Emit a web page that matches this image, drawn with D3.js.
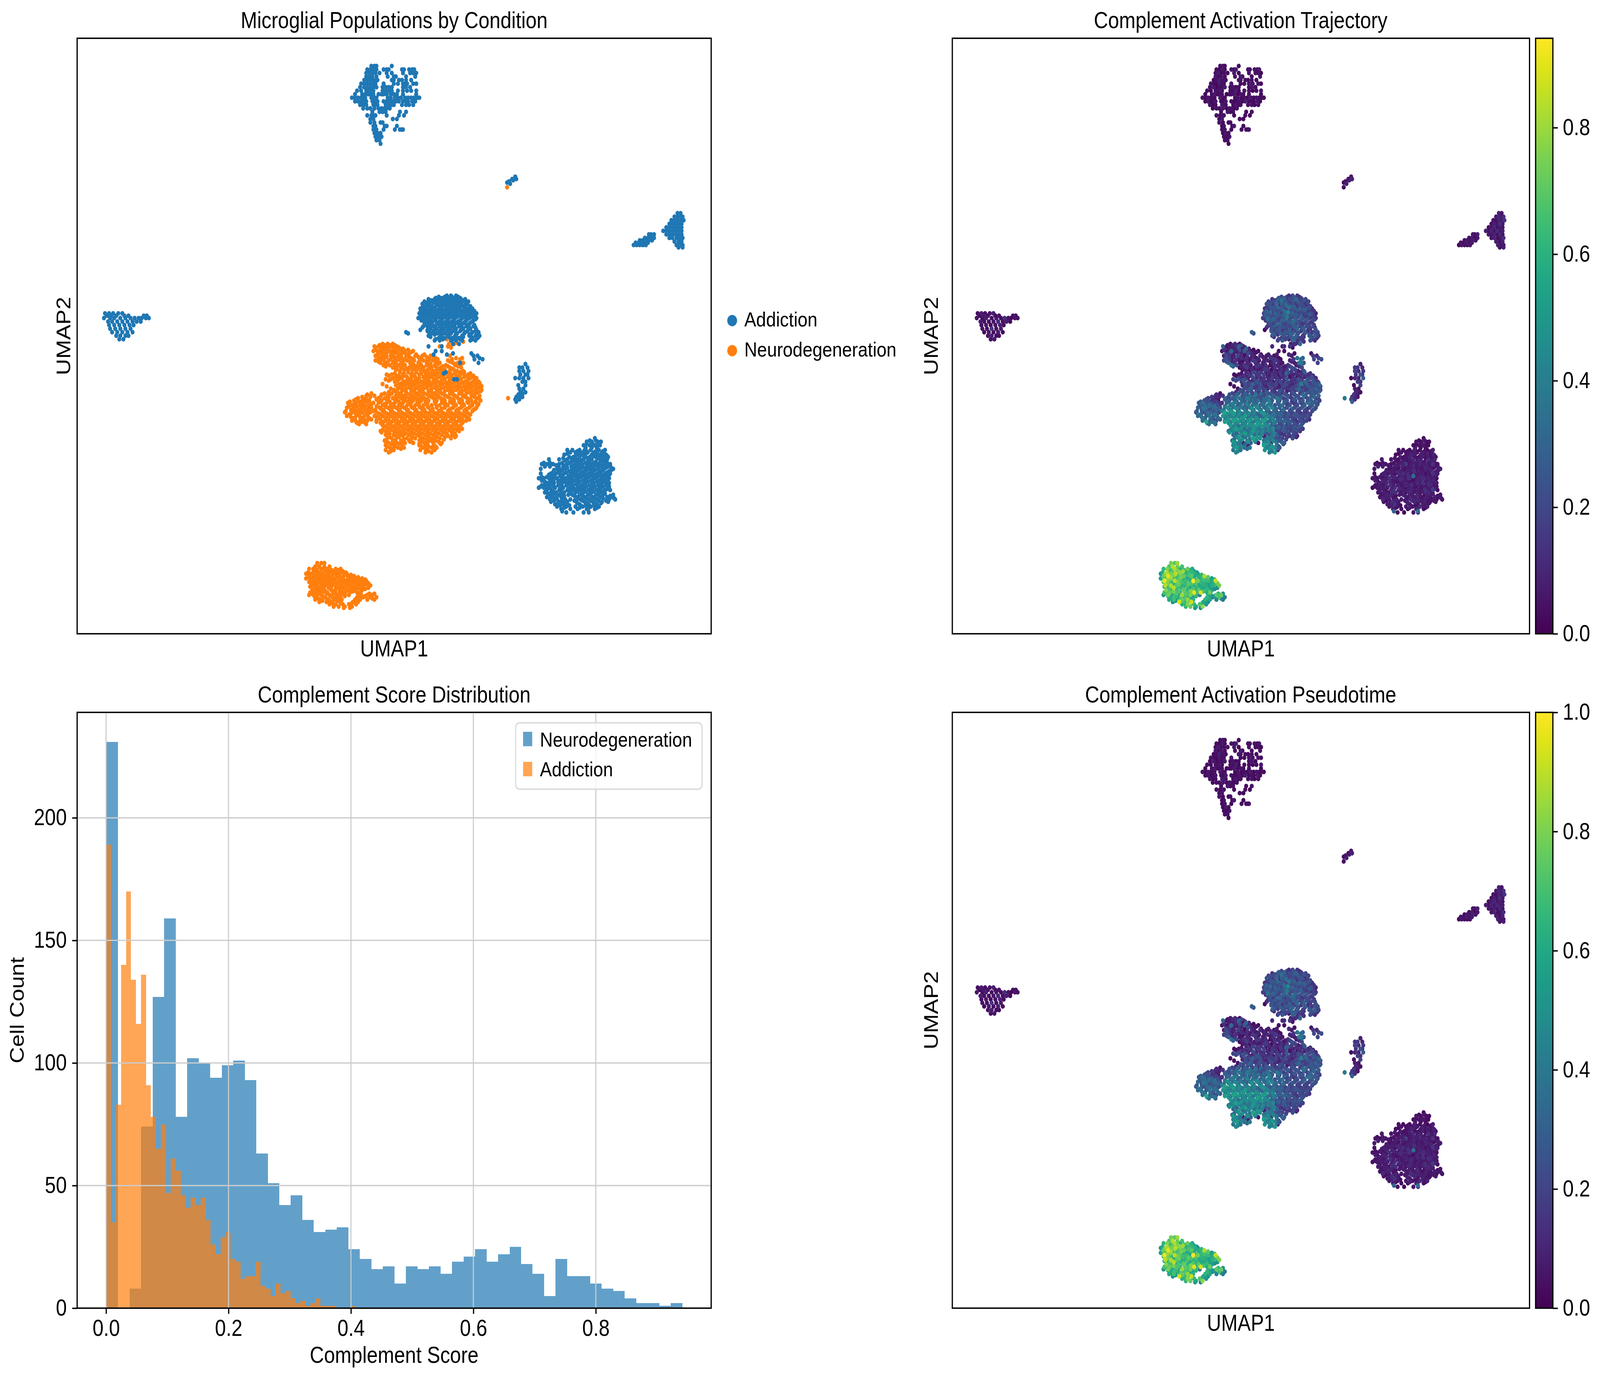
<!DOCTYPE html>
<html>
<head>
<meta charset="utf-8">
<script src="https://cdn.jsdelivr.net/npm/d3@7"></script>
<style>
  html, body { margin: 0; background: #fff; overflow: hidden; }
  /* window reports 4096x3534 here rather than 4729x3534, so fit the figure to whatever it is */
  svg { display: block; width: 100vw; height: 100vh; }
  text { font-family: "Liberation Sans", Arial, sans-serif; fill: #000; }
</style>
</head>
<body>
<svg id="fig" viewBox="0 0 4729 3534" preserveAspectRatio="none"></svg>
<script>
// Each row is [umap2, umap1, score%, umap1, score%, ...]
const clusterTop = [
  [482, 289,3, 292,5, 294,2, 309,4],
  [479, 285,4, 288,2, 291,6, 294,3, 301,5, 304,2, 306,7, 319,4, 321,3, 326,5, 329,2, 331,6],
  [476, 284,3, 287,7, 290,2, 293,4, 297,3, 304,6, 309,2, 320,5, 327,3, 330,4, 333,2],
  [473, 284,6, 287,2, 290,5, 294,3, 305,4, 311,7, 313,2, 323,3, 332,5],
  [470, 282,2, 285,4, 288,8, 291,3, 293,5, 295,2, 309,6, 311,3, 316,4, 319,2, 323,5, 328,3],
  [467, 279,5, 282,3, 285,2, 288,6, 291,3, 293,4, 301,6, 311,2, 315,4, 320,3, 322,7, 324,2, 330,5, 333,3],
  [464, 278,3, 282,6, 285,2, 288,4, 291,3, 294,7, 300,3, 303,5, 306,2, 309,4, 320,3, 323,6, 327,2],
  [461, 275,4, 279,2, 284,5, 287,3, 289,6, 291,2, 300,4, 303,3, 306,7, 309,2, 315,5, 320,3, 324,2, 328,4, 333,6],
  [458, 273,2, 280,4, 283,6, 286,2, 288,3, 291,5, 296,2, 299,4, 301,3, 304,6, 308,2, 311,5, 314,3, 320,4, 333,2],
  [455, 270,5, 273,3, 276,6, 279,2, 281,4, 283,3, 289,7, 292,2, 294,4, 305,3, 308,5, 312,2, 315,4, 318,3, 322,6, 325,2, 328,5, 331,3, 334,4, 336,2],
  [452, 273,3, 276,6, 279,2, 282,4, 284,5, 290,3, 293,2, 295,6, 301,4, 304,2, 307,3, 310,5, 313,2, 316,7, 320,3, 323,4, 325,2, 329,6, 332,3],
  [449, 278,5, 281,2, 284,3, 291,6, 293,2, 295,4, 303,3, 306,6, 309,2, 311,4, 319,3, 323,5, 326,2, 330,4],
  [446, 281,2, 285,4, 288,3, 292,6, 296,2, 299,5, 302,3, 304,2, 307,4],
  [443, 290,3, 297,6, 300,2, 303,4, 317,3, 323,5],
  [440, 285,4, 289,2, 291,5, 293,3, 304,2, 316,4, 321,2],
  [437, 288,3, 291,6, 310,4, 314,2],
  [434, 288,5, 292,3, 298,2, 300,4],
  [431, 291,2, 293,4, 302,3, 304,6, 314,2],
  [428, 291,3, 294,5, 301,2, 312,4, 317,3, 319,2, 320,5],
  [425, 292,2, 295,6, 298,3],
  [422, 293,4, 296,2, 299,5],
  [419, 294,3, 297,4],
  [416, 298,2]
];

const clusterTiny = [
  [388, 430,6], [386, 427,3, 431,9], [385, 428,7], [384, 424,5], [383, 422,2], [382, 425,8]
];

const clusterRight = [
  [357, 589,8, 592,5],
  [354, 586,6, 589,10, 592,4, 594,12],
  [351, 583,5, 586,3, 589,9, 592,7, 595,14],
  [348, 581,4, 584,8, 587,5, 590,12, 593,6],
  [345, 578,3, 581,6, 584,10, 587,4, 590,7, 593,5],
  [342, 575,7, 578,4, 581,9, 584,3, 587,11, 590,6, 593,8],
  [339, 561,5, 563,3, 566,8, 578,6, 581,5, 584,8, 587,3, 590,10, 593,4],
  [336, 557,4, 560,7, 563,2, 566,6, 581,5, 584,9, 588,3, 591,6, 594,12],
  [334, 552,3, 555,6, 558,4, 561,8, 564,5],
  [333, 586,7, 590,4, 593,9],
  [332, 548,5, 551,3, 554,7, 557,4, 560,6],
  [330, 546,2, 549,6, 552,4, 555,3, 558,5, 588,8, 591,5, 594,6],
  [328, 590,4, 594,7]
];

const clusterLeft = [
  [272, 28,4, 32,7, 36,3, 41,5, 45,8],
  [270, 30,3, 34,6, 39,4, 47,2, 51,5, 66,3, 69,4],
  [268, 27,5, 33,2, 37,7, 43,4, 48,6, 53,3, 57,12, 61,5, 64,2, 68,6, 71,3],
  [265, 31,8, 35,4, 40,3, 45,6, 50,10, 55,4, 59,7, 63,3],
  [262, 32,3, 37,6, 42,2, 47,5, 52,8, 56,3],
  [259, 33,5, 38,3, 43,15, 48,4, 53,6],
  [256, 35,2, 40,6, 45,4, 50,7, 55,3],
  [253, 39,5, 43,8, 48,3, 51,4],
  [250, 42,4, 46,6]
];

const clusterUpper = [
  [287, 363,12, 367,18, 372,14],
  [285, 352,24, 358,28, 365,14, 370,20, 376,18],
  [283, 348,16, 355,34, 361,9, 368,24, 374,12, 379,24],
  [281, 343,22, 350,30, 357,26, 364,18, 371,14, 377,16, 383,20],
  [279, 346,14, 353,12, 360,32, 367,24, 374,20, 381,8],
  [277, 339,16, 344,26, 351,30, 356,20, 363,36, 369,28, 376,14, 385,22],
  [275, 341,12, 347,24, 354,24, 359,16, 366,22, 372,26, 380,28, 387,10],
  [273, 337,24, 343,32, 349,18, 356,14, 362,44, 368,18, 375,20, 383,14, 389,12],
  [271, 340,22, 346,16, 352,26, 358,30, 365,24, 371,26, 378,14, 385,26, 391,6],
  [269, 337,12, 343,18, 349,26, 355,20, 361,38, 367,14, 373,22, 380,16, 387,12],
  [267, 340,34, 346,30, 352,14, 358,28, 364,18, 370,28, 377,26, 383,24, 391,18],
  [265, 343,26, 349,22, 356,14, 362,26, 368,32, 374,20, 381,14, 388,8],
  [263, 346,16, 353,30, 359,18, 365,20, 371,16, 378,12, 385,18],
  [261, 340,14, 344,20, 350,12, 356,24, 362,22, 368,28, 375,20, 382,22, 389,20],
  [259, 347,18, 353,26, 360,16, 366,12, 372,30, 379,28, 386,16],
  [257, 344,26, 350,16, 356,14, 363,24, 369,18, 376,14, 383,12, 391,24],
  [255, 348,22, 354,28, 361,22, 367,28, 373,20, 380,20, 387,16, 394,14],
  [253, 345,20, 357,24, 364,14, 371,26, 378,16, 385,26, 391,28, 395,18],
  [251, 355,14, 361,20, 368,28, 375,18, 388,20, 393,14],
  [249, 351,18, 356,26, 367,30, 372,14, 378,8, 386,22, 391,12]
];

const clusterUpperFill = [
  [286, 355,20, 361,16, 368,24, 374,12],
  [284, 345,14, 351,26, 358,18, 364,22, 371,30, 377,14, 381,18],
  [282, 341,18, 347,22, 353,14, 360,24, 366,16, 373,26, 380,12, 384,16],
  [280, 339,24, 345,12, 355,28, 362,20, 369,18, 376,24, 383,14],
  [278, 342,20, 348,24, 358,16, 365,26, 372,12, 379,20, 386,18],
  [276, 337,14, 344,18, 350,20, 356,26, 362,14, 369,22, 375,30, 382,24, 388,12],
  [274, 339,28, 345,14, 352,22, 358,32, 364,18, 370,14, 378,22, 385,16, 390,14],
  [272, 336,16, 341,20, 348,28, 354,16, 360,24, 367,30, 373,16, 381,20, 387,24, 392,10],
  [270, 338,26, 344,22, 350,14, 356,24, 363,18, 369,24, 376,28, 383,12, 389,18],
  [268, 335,18, 341,28, 347,16, 353,20, 359,26, 365,22, 371,14, 378,20, 385,16, 392,12],
  [266, 338,14, 345,24, 351,18, 357,30, 363,14, 370,22, 376,16, 382,26, 389,20],
  [264, 341,20, 348,16, 354,26, 360,18, 366,28, 373,24, 380,18, 386,14],
  [262, 343,22, 349,28, 356,12, 363,20, 369,26, 376,14, 383,20, 390,12],
  [260, 339,10, 346,24, 352,14, 358,22, 365,16, 371,26, 378,22, 385,18, 391,16],
  [258, 344,18, 351,24, 357,14, 364,28, 370,20, 377,18, 384,12, 392,22],
  [256, 346,14, 352,18, 359,26, 366,14, 372,24, 381,26, 388,14, 394,20],
  [254, 346,28, 351,16, 358,20, 365,30, 372,12, 385,22, 392,16],
  [252, 347,12, 358,18, 365,24, 372,20, 379,14, 387,24, 394,12],
  [250, 352,20, 359,16, 369,26, 376,14, 388,16]
];

const clusterBlueStrays = [
  [258, 337,2], [256, 323,28], [255, 325,24],
  [246, 369,10, 375,30], [244, 345,10, 358,12], [240, 352,4, 358,3], [238, 369,4], [237, 350,8, 363,10],
  [238, 387,5], [236, 389,16, 393,10], [234, 395,18], [233, 390,20, 398,22], [230, 394,18],
  [230, 376,38], [222, 362,24], [221, 360,28], [216, 370,12, 373,22]
];

const clusterMidRight = [
  [229, 440,8], [226, 434,14, 437,16, 442,10], [223, 434,18, 438,12, 443,15], [220, 435,14, 440,24, 442,12],
  [217, 430,3, 434,12, 438,10, 443,28], [214, 437,16, 440,14], [211, 433,3, 440,18],
  [208, 434,8, 438,6], [205, 435,6, 436,10, 440,5], [203, 433,14, 437,6],
  [201, 431,14, 435,8, 437,6], [199, 430,18, 434,12], [197, 431,28]
];

const clusterDeep = [
  [166, 508,3],
  [163, 500,5, 505,3, 511,2, 514,4],
  [160, 497,2, 503,5, 508,6, 513,2],
  [156, 481,5, 486,3, 493,2, 498,8, 504,3, 512,2, 518,8],
  [154, 484,6, 489,4, 496,4, 501,4, 507,7, 515,5],
  [152, 478,3, 491,5, 495,9, 505,6, 512,8, 519,9],
  [150, 483,7, 487,4, 499,3, 503,4, 509,3, 516,3, 521,2],
  [148, 463,7, 473,5, 481,4, 490,3, 497,11, 505,7, 513,12, 520,10],
  [146, 485,8, 493,6, 501,4, 509,5, 517,6],
  [144, 456,5, 461,3, 467,5, 473,4, 481,5, 489,16, 496,8, 504,10, 511,9, 518,14, 523,4],
  [142, 459,8, 464,8, 477,7, 485,9, 492,4, 500,6, 507,4, 514,6, 521,6],
  [140, 455,6, 471,3, 479,5, 488,4, 494,6, 503,7, 511,9, 517,4, 526,8],
  [138, 474,7, 483,9, 490,8, 498,12, 506,5, 514,6, 522,7],
  [136, 455,4, 465,8, 470,5, 478,4, 486,12, 494,5, 502,7, 510,4, 518,14, 523,6],
  [134, 468,9, 474,9, 482,7, 489,6, 497,34, 505,9, 513,8, 520,5],
  [132, 453,6, 458,4, 463,5, 471,12, 479,8, 485,10, 492,13, 500,8, 508,12, 516,5, 522,4],
  [130, 456,7, 465,9, 474,6, 481,5, 488,7, 496,4, 504,6, 512,7, 519,9],
  [128, 461,8, 468,10, 476,6, 484,5, 491,4, 499,6, 507,13, 515,10, 522,7],
  [126, 456,3, 464,5, 472,13, 480,9, 487,7, 495,11, 503,8, 511,5, 519,6],
  [124, 453,2, 458,6, 463,8, 469,5, 477,12, 484,4, 491,6, 498,5, 506,4, 514,8, 521,6],
  [122, 461,4, 473,9, 481,6, 486,8, 494,10, 502,7, 510,12, 518,16, 523,3],
  [120, 459,6, 465,8, 470,5, 478,13, 489,4, 497,5, 505,6, 513,11],
  [118, 463,4, 473,9, 482,6, 486,7, 493,8, 501,10, 509,4, 516,7, 526,5],
  [116, 461,5, 467,8, 475,4, 490,5, 498,7, 506,4, 514,5, 520,7, 525,6],
  [114, 464,11, 471,4, 479,9, 484,6, 494,12, 502,9, 510,8, 522,4, 528,3],
  [112, 465,4, 474,12, 481,6, 490,8, 498,10, 506,7, 515,3, 521,6],
  [110, 469,7, 477,13, 493,5, 502,4, 510,5],
  [108, 471,5, 480,6, 489,7, 496,5, 504,12, 512,8],
  [106, 475,8, 484,3, 491,4, 500,9, 508,4],
  [104, 476,30],
  [103, 480,4, 487,2, 497,6, 502,9]
];

const clusterDeepFill = [
  [164, 503,4, 509,6],
  [161, 500,3, 506,5, 511,4],
  [158, 499,6, 505,4, 510,3],
  [155, 491,5, 500,3, 509,6, 516,4],
  [153, 481,3, 493,6, 499,7, 510,4, 517,6],
  [151, 489,5, 497,4, 507,8, 514,5, 520,3],
  [149, 477,6, 485,3, 493,8, 501,5, 511,4, 518,6],
  [147, 479,4, 488,6, 495,3, 503,9, 515,7],
  [145, 458,4, 464,6, 476,5, 483,7, 491,4, 499,8, 507,6, 513,4, 520,5],
  [143, 470,6, 479,8, 487,3, 494,7, 502,5, 509,9, 516,6, 523,3],
  [141, 473,5, 481,4, 490,6, 497,9, 505,5, 512,7, 519,4, 524,8],
  [139, 468,7, 476,6, 485,5, 492,8, 500,4, 508,6, 516,9, 524,4],
  [137, 467,4, 472,8, 480,10, 488,5, 496,7, 504,8, 512,5, 520,6],
  [135, 463,6, 475,4, 484,9, 491,12, 499,5, 507,7, 515,4, 522,8],
  [133, 456,5, 461,7, 466,4, 476,9, 486,6, 494,10, 502,8, 510,6, 518,7],
  [131, 468,6, 477,5, 483,12, 490,7, 498,4, 506,9, 514,8, 521,4],
  [129, 459,4, 464,7, 472,9, 479,4, 486,8, 493,5, 501,10, 510,6, 517,7],
  [127, 459,6, 466,4, 474,8, 482,6, 490,9, 497,7, 505,4, 513,12, 520,5],
  [125, 455,5, 461,7, 468,9, 476,4, 485,6, 493,8, 500,5, 508,7, 516,9, 522,4],
  [123, 465,6, 474,5, 482,10, 488,4, 496,7, 504,6, 512,4, 520,8],
  [121, 460,7, 467,4, 475,12, 484,5, 491,9, 499,6, 507,8, 515,5],
  [119, 462,5, 468,8, 476,6, 483,4, 495,7, 503,4, 511,9, 518,6],
  [117, 465,6, 471,9, 478,4, 488,8, 496,5, 504,6, 512,7, 523,4],
  [115, 470,7, 476,5, 492,6, 500,8, 508,5, 516,4, 527,6],
  [113, 468,4, 477,8, 488,5, 496,9, 504,7, 512,4, 519,6],
  [111, 472,6, 480,5, 491,7, 500,6, 508,8, 514,5],
  [109, 474,9, 483,4, 494,6, 499,4, 507,7],
  [107, 478,5, 493,8, 502,6, 510,4]
];

const clusterMain = [
  [246, 300,5, 305,12, 310,3],
  [244, 292,30, 296,4, 304,3, 309,28, 314,6],
  [242, 299,8, 303,8, 312,6, 317,30, 320,10],
  [240, 291,4, 295,5, 301,32, 307,6, 315,25, 322,4, 330,3],
  [238, 298,10, 304,9, 311,9, 319,20, 326,6],
  [236, 293,8, 299,14, 308,18, 315,3, 323,10, 332,12, 339,6, 347,5, 366,8],
  [234, 296,22, 302,5, 312,12, 319,8, 328,3, 336,9, 344,14, 352,3, 372,35, 378,30],
  [232, 293,18, 306,12, 314,3, 324,15, 331,4, 340,11, 349,16, 364,10],
  [230, 298,28, 303,7, 310,5, 318,9, 327,12, 335,8, 345,9, 356,6, 369,7, 374,40, 379,24],
  [228, 301,34, 307,20, 315,14, 322,5, 331,15, 338,12, 343,3, 351,8, 362,12, 371,8],
  [226, 310,2, 318,16, 326,3, 335,10, 340,6, 348,14, 357,3, 366,22, 377,20],
  [224, 313,2, 321,3, 329,8, 337,16, 344,2, 353,9, 361,15, 370,17],
  [222, 317,10, 325,18, 333,14, 342,7, 349,11, 357,6, 365,13, 376,9, 380,26],
  [220, 304,3, 309,6, 320,15, 328,12, 336,18, 345,14, 352,3, 360,17, 368,10, 376,14, 384,5],
  [218, 313,10, 317,2, 324,20, 332,7, 340,10, 348,5, 356,12, 364,4, 372,3, 380,8, 388,22],
  [216, 303,18, 308,22, 316,20, 326,18, 334,9, 343,12, 351,15, 361,26, 369,9, 377,14, 384,22, 391,8],
  [214, 312,15, 321,12, 329,24, 338,13, 346,6, 354,20, 357,4, 365,13, 373,18, 381,30, 389,25, 394,14],
  [212, 300,3, 316,22, 324,28, 332,24, 341,18, 349,20, 359,22, 367,8, 376,38, 385,14, 392,24],
  [210, 304,4, 319,14, 328,16, 336,10, 344,14, 353,6, 363,12, 371,20, 380,18, 388,20, 397,22],
  [208, 308,5, 315,22, 323,26, 332,24, 340,6, 348,12, 357,16, 366,20, 374,30, 383,18, 392,30],
  [206, 312,18, 319,14, 328,22, 336,14, 345,18, 353,24, 361,8, 369,14, 378,22, 387,26, 396,26],
  [204, 289,5, 302,20, 309,26, 316,28, 324,12, 333,30, 341,22, 350,18, 358,24, 366,16, 375,18, 382,28, 391,22],
  [202, 284,12, 292,14, 305,18, 313,22, 321,34, 329,24, 337,16, 346,28, 354,14, 362,26, 371,22, 379,34, 387,24, 395,28],
  [200, 276,18, 284,8, 296,24, 302,28, 310,34, 318,38, 326,30, 333,18, 341,36, 350,38, 357,14, 366,18, 374,20, 383,22, 392,20],
  [198, 272,24, 280,12, 287,6, 299,20, 306,26, 314,22, 322,26, 330,36, 338,30, 345,24, 353,20, 361,24, 370,16, 378,26, 387,30, 396,18],
  [196, 266,26, 274,20, 282,16, 291,12, 296,28, 304,38, 312,32, 320,24, 328,22, 336,26, 344,28, 352,30, 359,18, 368,12, 376,16, 384,34, 392,18],
  [194, 270,30, 278,32, 286,22, 300,34, 308,26, 316,28, 324,36, 332,32, 340,40, 348,24, 356,34, 364,24, 372,20, 380,28, 388,22, 393,26],
  [192, 265,30, 273,34, 281,28, 289,20, 297,46, 305,42, 313,30, 321,38, 329,44, 337,28, 345,42, 353,22, 361,24, 369,22, 377,26, 385,18, 392,14],
  [190, 269,24, 277,22, 285,30, 293,30, 301,36, 309,28, 317,24, 325,30, 333,34, 341,32, 349,26, 357,32, 365,14, 373,16, 381,20, 389,24],
  [188, 263,26, 272,22, 280,26, 288,20, 294,54, 302,50, 310,46, 318,34, 326,42, 334,46, 342,26, 350,24, 358,20, 366,12, 374,16, 382,12],
  [186, 267,34, 276,30, 284,36, 298,42, 306,32, 314,36, 322,28, 330,30, 338,38, 346,36, 354,30, 362,26, 370,24, 378,20, 386,18],
  [184, 269,34, 278,36, 286,30, 294,38, 302,44, 310,36, 318,34, 326,36, 334,32, 342,34, 350,22, 358,18, 366,20, 374,22, 382,24],
  [182, 273,26, 282,22, 289,24, 298,50, 306,54, 314,48, 322,50, 330,44, 338,52, 346,42, 354,28, 362,24, 370,14, 378,16, 385,12],
  [180, 274,56, 280,32, 294,52, 301,38, 309,50, 317,32, 325,36, 333,40, 341,34, 349,36, 357,30, 365,26, 373,14, 379,20],
  [178, 277,36, 284,28, 305,44, 313,40, 321,46, 329,52, 337,44, 345,28, 353,20, 361,18, 369,22, 377,24],
  [176, 302,42, 310,36, 318,46, 326,48, 334,50, 342,36, 350,24, 358,28, 366,16, 374,26],
  [174, 306,54, 314,30, 322,40, 330,38, 338,30, 346,44, 354,18, 362,20, 370,22, 378,18],
  [172, 298,36, 303,44, 311,40, 319,34, 327,38, 335,44, 343,34, 351,20, 359,24, 367,22, 375,14],
  [170, 307,28, 316,52, 323,46, 331,30, 339,26, 347,40, 355,12, 363,18, 371,16],
  [168, 305,36, 313,26, 320,42, 328,38, 336,6, 344,30, 352,16, 364,14, 372,8],
  [166, 309,50, 324,54, 332,46, 340,40, 348,24, 356,20, 367,22],
  [164, 302,32, 310,38, 318,40, 326,50, 336,36, 346,42, 352,24],
  [162, 306,44, 314,4, 322,30, 330,6, 341,46, 344,4, 356,30, 358,26],
  [160, 303,40, 311,36, 319,6, 336,52, 344,36, 350,18],
  [158, 307,52, 315,34, 321,38, 340,40, 348,44, 353,24],
  [156, 303,36, 311,34, 337,48, 344,40, 351,10],
  [154, 306,44, 342,40, 348,52]
];

const clusterMainFill = [
  [245, 297,6, 302,10, 307,4, 312,20],
  [243, 293,8, 300,3, 306,12, 311,5, 316,9],
  [241, 293,12, 298,4, 305,10, 310,22, 318,6, 325,3],
  [239, 300,18, 308,4, 313,7, 321,12, 328,5],
  [237, 295,20, 302,6, 309,14, 317,3, 324,8, 333,4, 341,7],
  [235, 304,10, 311,5, 318,12, 326,7, 335,3, 343,9, 350,6],
  [233, 299,16, 308,7, 316,10, 322,4, 330,9, 338,5, 346,12, 354,4, 368,14, 376,32],
  [231, 296,24, 302,9, 311,3, 320,7, 327,14, 336,8, 343,3, 352,10, 366,9],
  [229, 305,14, 313,6, 320,11, 329,4, 337,7, 347,12, 354,5, 372,10, 377,28],
  [227, 303,28, 312,9, 319,5, 328,14, 334,6, 346,4, 352,11, 359,7, 364,16, 374,12],
  [225, 314,8, 323,11, 331,6, 339,15, 347,7, 355,13, 360,4, 368,19],
  [223, 317,4, 325,9, 333,5, 341,12, 350,5, 358,9, 366,16, 373,7, 379,20],
  [221, 312,6, 321,8, 329,15, 338,6, 346,10, 354,16, 362,5, 371,12, 379,11, 386,14],
  [219, 306,4, 315,13, 322,6, 331,16, 342,4, 349,13, 358,8, 366,6, 374,9, 382,15, 389,7],
  [217, 310,16, 319,11, 328,9, 336,14, 345,18, 353,7, 360,20, 368,14, 376,6, 386,18, 392,12],
  [215, 306,20, 314,24, 324,8, 332,16, 341,10, 350,17, 358,12, 366,10, 375,22, 383,16, 390,20],
  [213, 319,18, 327,20, 335,12, 344,16, 352,9, 362,16, 370,14, 379,24, 387,18, 395,22],
  [211, 313,10, 322,24, 330,14, 339,8, 347,16, 356,18, 365,10, 374,24, 383,26, 391,16, 396,30],
  [209, 317,20, 326,12, 334,18, 343,22, 351,10, 360,14, 368,18, 377,16, 386,24, 394,18],
  [207, 311,24, 320,28, 329,14, 338,20, 347,8, 355,20, 364,12, 372,26, 381,14, 390,22, 397,18],
  [205, 306,12, 314,16, 323,20, 331,12, 339,26, 348,14, 356,10, 367,24, 376,14, 385,20, 393,24],
  [203, 285,10, 299,24, 307,30, 318,24, 327,36, 335,20, 344,24, 352,20, 360,18, 369,24, 378,30, 389,26],
  [201, 280,16, 288,10, 298,18, 306,32, 315,26, 323,28, 331,22, 339,30, 348,20, 355,26, 364,14, 373,24, 381,18, 390,30],
  [199, 274,22, 282,14, 294,28, 304,24, 312,28, 320,34, 328,24, 336,32, 344,26, 352,34, 360,20, 369,26, 377,16, 386,26, 395,20],
  [197, 268,28, 277,24, 285,18, 298,30, 307,36, 316,28, 325,32, 334,24, 342,40, 351,22, 358,28, 366,18, 375,24, 383,20, 391,26],
  [195, 272,32, 280,26, 289,14, 302,40, 310,24, 318,42, 327,28, 335,34, 343,30, 352,24, 362,16, 371,22, 379,18, 388,28, 394,20],
  [193, 267,24, 275,28, 283,34, 294,36, 303,30, 311,38, 319,26, 328,40, 336,30, 344,36, 353,28, 361,18, 370,14, 378,22, 386,24],
  [191, 271,36, 279,20, 287,28, 298,40, 307,44, 315,34, 323,46, 331,26, 340,38, 349,30, 358,22, 367,26, 375,20, 383,14, 391,22],
  [189, 264,28, 274,30, 283,24, 291,42, 300,48, 308,32, 316,40, 324,34, 332,42, 339,28, 347,32, 355,26, 364,20, 372,18, 380,14, 388,18],
  [187, 269,26, 278,34, 286,22, 296,46, 304,52, 312,38, 320,44, 328,30, 336,48, 344,24, 352,28, 360,18, 368,22, 376,12, 384,20],
  [185, 265,32, 274,24, 282,28, 292,50, 300,38, 308,44, 316,52, 324,38, 332,28, 340,42, 348,30, 356,24, 364,16, 372,24, 380,18],
  [183, 271,36, 280,26, 287,32, 296,44, 304,36, 312,50, 320,36, 328,48, 336,34, 344,38, 352,26, 360,22, 368,18, 376,20, 384,14],
  [181, 270,30, 278,28, 285,24, 294,40, 303,54, 311,34, 319,48, 327,42, 335,52, 343,30, 351,24, 359,28, 367,16, 375,22, 382,18],
  [179, 275,34, 283,36, 298,46, 307,38, 315,44, 323,36, 331,50, 339,32, 347,38, 355,22, 363,26, 371,14, 378,16],
  [177, 300,50, 308,34, 316,42, 324,46, 332,36, 340,44, 348,24, 356,18, 364,22, 372,20],
  [175, 304,40, 312,48, 320,34, 328,42, 336,38, 344,28, 352,30, 360,16, 368,24, 376,18],
  [173, 300,38, 308,46, 316,36, 325,50, 333,32, 341,40, 349,20, 357,26, 365,14, 373,20],
  [171, 299,46, 306,30, 314,42, 321,36, 329,44, 337,28, 345,36, 353,16, 361,22, 369,18],
  [169, 303,32, 311,48, 318,38, 326,30, 334,42, 342,24, 350,28, 358,14, 368,20],
  [167, 307,42, 316,34, 329,50, 337,8, 345,38, 353,22, 361,16, 371,12],
  [165, 304,28, 313,46, 321,32, 328,44, 338,30, 343,34, 351,20, 360,18],
  [163, 303,50, 311,34, 319,46, 327,30, 339,42, 349,36, 355,22],
  [161, 308,38, 316,30, 336,46, 342,28, 350,34, 357,20],
  [159, 304,46, 312,42, 338,34, 345,50, 352,16],
  [157, 309,36, 318,32, 342,44, 350,30],
  [155, 308,40, 345,36]
];

const clusterLower = [
  [60, 236,74, 240,70, 243,80],
  [57, 234,68, 238,84, 243,72, 248,66],
  [55, 228,62, 232,76, 240,82, 246,58, 254,72, 259,56],
  [53, 235,50, 244,76, 249,80, 253,58, 257,54, 261,54],
  [51, 225,50, 230,78, 236,74, 241,84, 247,70, 252,60, 256,64, 262,58, 265,46],
  [49, 228,72, 233,90, 238,66, 244,62, 250,72, 258,70, 267,60, 272,82],
  [47, 225,54, 231,68, 236,76, 242,66, 248,58, 253,52, 259,60, 270,64, 274,64, 280,50],
  [45, 229,92, 234,70, 240,84, 246,60, 252,64, 257,56, 260,94, 265,74, 269,58, 276,64, 284,86],
  [43, 232,76, 237,58, 244,66, 250,62, 255,70, 263,68, 272,60, 279,56, 286,74],
  [41, 230,84, 236,82, 242,70, 247,54, 254,66, 260,60, 267,56, 274,58, 281,60, 288,74],
  [39, 233,58, 239,84, 247,60, 256,54, 262,58, 270,52, 277,54, 286,48],
  [37, 231,76, 237,60, 243,62, 250,72, 258,64, 266,70, 273,60, 280,50],
  [35, 229,66, 235,72, 241,68, 246,58, 254,66, 261,90, 268,88, 275,56, 278,72],
  [33, 228,50, 233,74, 240,62, 248,80, 257,74, 263,64, 267,38, 279,50, 285,70, 290,72],
  [31, 236,58, 243,56, 251,66, 259,52, 275,62, 281,44, 288,66, 294,40],
  [29, 234,58, 239,66, 247,72, 254,78, 260,60, 273,60, 278,56, 285,42, 292,38],
  [27, 238,46, 245,88, 251,64, 258,86, 271,52, 276,46],
  [25, 248,60, 254,76, 261,62, 267,68, 274,50],
  [23, 252,62, 257,72, 263,54, 270,78],
  [22, 262,46, 268,42]
];

const clusterLowerFill = [
  [54, 236,66, 243,70, 250,64, 257,60],
  [52, 227,58, 232,82, 239,72, 246,78, 251,54, 259,62, 264,50],
  [50, 233,64, 240,76, 245,68, 255,66, 263,56, 269,62],
  [48, 228,66, 236,80, 241,60, 247,74, 255,58, 261,54, 266,58, 276,70],
  [46, 232,78, 238,62, 245,70, 250,56, 262,64, 267,52, 272,66, 279,54, 283,60],
  [44, 228,70, 235,64, 243,74, 248,66, 254,60, 260,72, 268,62, 274,54, 281,58],
  [42, 233,68, 240,60, 245,72, 252,58, 258,66, 265,54, 270,60, 277,50, 284,62],
  [40, 229,62, 236,70, 243,64, 250,60, 259,56, 264,62, 272,56, 280,54],
  [38, 234,66, 241,58, 249,66, 254,62, 260,68, 268,58, 275,62, 283,46],
  [36, 232,60, 239,74, 244,68, 251,58, 258,76, 264,60, 271,66, 279,56],
  [34, 231,64, 237,52, 245,60, 252,70, 260,66, 276,58, 287,60, 292,48],
  [32, 233,56, 241,64, 249,58, 255,62, 263,58, 278,54, 283,50],
  [30, 237,50, 245,60, 252,68, 257,56, 275,54, 290,44],
  [28, 241,52, 248,70, 256,66, 274,50],
  [26, 251,58, 259,64, 270,56]
];

const clusterOrangeStrays = [
  [250, 363,6], [248, 379,14], [247, 373,10], [246, 365,8, 370,12], [244, 356,9, 364,16], [243, 367,5], [200, 423,38], [104, 502,35], [379, 422,4]
];

const addictionClusters = [clusterTop, clusterTiny, clusterRight, clusterLeft, clusterUpper, clusterUpperFill, clusterBlueStrays, clusterMidRight, clusterDeep, clusterDeepFill];
const neuroClusters = [clusterMain, clusterMainFill, clusterLower, clusterLowerFill, clusterOrangeStrays];

// histogram counts, 50 bins per condition
const neuroCounts = [231,0,8,74,127,159,78,102,100,94,99,101,93,63,51,42,46,36,31,32,33,24,20,16,17,10,17,16,17,14,19,21,24,19,22,25,18,14,5,20,13,13,10,8,7,4,2,2,1,2];
const addictionCounts = [189,35,83,140,170,134,116,136,91,78,65,75,47,61,56,46,41,45,42,45,36,26,22,29,31,20,19,12,13,13,19,9,8,5,10,6,7,4,2,3,1,2,4,1,1,1,0,0,0,1];
const neuroRange = [0.0008, 0.9413];
const addictionRange = [0, 0.407];

const histXTicks = [0, 0.2, 0.4, 0.6, 0.8];
const histYTicks = [0, 50, 100, 150, 200];
const trajectoryTicks = [0, 0.2, 0.4, 0.6, 0.8];
const pseudotimeTicks = [0, 0.2, 0.4, 0.6, 0.8, 1];
const maxScore = 0.9413;

const conditionLabels = ["Addiction", "Neurodegeneration"];
const histLabels = ["Neurodegeneration", "Addiction"];
const BLUE = "#1f77b4";
const ORANGE = "#ff7f0e";

const SPINE = 3.6;
const TICK = 14.6;
const FONT = 58.3;
const LEGEND_FONT = 52.5;
const DOT = 6;

const svg = d3.select("#fig");
svg.append("rect").attr("width", 4729).attr("height", 3534).attr("fill", "#fff");

const unpack = (clusters, condition) =>
  clusters.flatMap((rows) =>
    rows.flatMap(([v, ...rest]) => {
      const pts = [];
      for (let i = 0; i < rest.length; i += 2) {
        pts.push({ u: rest[i], v, score: rest[i + 1] / 100, condition });
      }
      return pts;
    })
  );

const orangePts = unpack(neuroClusters, 1);
const bluePts = unpack(addictionClusters, 0);
const allPts = orangePts.concat(bluePts);
const byScore = allPts.slice().sort((a, b) => a.score - b.score);

const addText = (str, x, y, opts = {}) =>
  svg.append("text")
    .attr("x", x)
    .attr("y", y)
    .attr("font-size", opts.size || FONT)
    .attr("text-anchor", opts.anchor || "middle")
    .attr("transform", opts.rotate ? `rotate(-90 ${x} ${y})` : null)
    .text(str);

const addSpines = (box) =>
  svg.append("rect")
    .attr("x", box.x0).attr("y", box.y0)
    .attr("width", box.x1 - box.x0).attr("height", box.y1 - box.y0)
    .attr("fill", "none").attr("stroke", "#000").attr("stroke-width", SPINE);

const styleAxis = (g) => {
  g.attr("font-size", FONT).attr("font-family", '"Liberation Sans", Arial, sans-serif');
  g.select(".domain").remove();
  g.selectAll(".tick line").attr("stroke", "#000").attr("stroke-width", SPINE);
  g.selectAll(".tick text").attr("fill", "#000");
};

const drawUmap = (box, data, colorOf, labelX) => {
  const x = d3.scaleLinear().domain([0.7, 622]).range([box.x0, box.x1]);
  const y = d3.scaleLinear().domain([0, 505.5]).range([box.y1, box.y0]);
  svg.append("g").selectAll("circle").data(data).join("circle")
    .attr("cx", (d) => x(d.u))
    .attr("cy", (d) => y(d.v))
    .attr("r", DOT)
    .attr("fill", colorOf);
  addSpines(box);
  addText("UMAP1", (box.x0 + box.x1) / 2, box.y1 + 58);
  addText("UMAP2", labelX, (box.y0 + box.y1) / 2, { rotate: true });
};

const drawColorbar = (box, id, domain, ticks) => {
  const stops = d3.range(0, 1.001, 0.05);
  const grad = svg.append("defs").append("linearGradient").attr("id", id)
    .attr("x1", 0).attr("y1", 1).attr("x2", 0).attr("y2", 0);
  grad.selectAll("stop").data(stops).join("stop")
    .attr("offset", (d) => d)
    .attr("stop-color", (d) => d3.interpolateViridis(d));
  svg.append("rect")
    .attr("x", box.x0).attr("y", box.y0)
    .attr("width", box.x1 - box.x0).attr("height", box.y1 - box.y0)
    .attr("fill", `url(#${id})`);
  const scale = d3.scaleLinear().domain(domain).range([box.y1, box.y0]);
  svg.append("g")
    .attr("transform", `translate(${box.x1},0)`)
    .call(d3.axisRight(scale).tickValues(ticks).tickSize(TICK).tickPadding(14.6).tickFormat(d3.format(".1f")))
    .call(styleAxis);
  addSpines(box);
};

// top left: condition
const boxCondition = { x0: 228, x1: 2102, y0: 98, y1: 1623 };
addText("Microglial Populations by Condition", 1165, 98 - 25.5);
drawUmap(boxCondition, allPts, (d) => (d.condition ? ORANGE : BLUE), 208);

conditionLabels.forEach((label, i) => {
  const cy = [821, 898][i];
  svg.append("circle").attr("cx", 2164).attr("cy", cy).attr("r", 14.5).attr("fill", i ? ORANGE : BLUE);
  addText(label, 2200, cy + 15, { size: LEGEND_FONT, anchor: "start" });
});

// top right: trajectory
const colorScore = d3.scaleSequential(d3.interpolateViridis).domain([0, maxScore]);
const boxTrajectory = { x0: 2814.7, x1: 4520.7, y0: 98, y1: 1623 };
addText("Complement Activation Trajectory", 3667, 98 - 25.5);
drawUmap(boxTrajectory, byScore, (d) => colorScore(d.score), 2772);
drawColorbar({ x0: 4538.7, x1: 4589.7, y0: 98, y1: 1623 }, "cbTrajectory", [0, maxScore], trajectoryTicks);

// bottom right: pseudotime
const colorPseudo = d3.scaleSequential(d3.interpolateViridis).domain([0, 1]);
const boxPseudo = { x0: 2814.7, x1: 4520.7, y0: 1824.3, y1: 3350 };
addText("Complement Activation Pseudotime", 3667, 1824.3 - 25.5);
drawUmap(boxPseudo, byScore, (d) => colorPseudo(d.score / maxScore), 2772);
drawColorbar({ x0: 4538.7, x1: 4589.7, y0: 1824.3, y1: 3350 }, "cbPseudo", [0, 1], pseudotimeTicks);

// bottom left: histogram
const boxHist = { x0: 228, x1: 2102, y0: 1824.3, y1: 3350 };
const histX = d3.scaleLinear().domain([-0.0473, 0.9885]).range([boxHist.x0, boxHist.x1]);
const histY = d3.scaleLinear().domain([0, 243]).range([boxHist.y1, boxHist.y0]);

const drawBars = (counts, range, color) => {
  const w = (range[1] - range[0]) / counts.length;
  svg.append("g").attr("fill", color).attr("fill-opacity", 0.7).attr("shape-rendering", "crispEdges")
    .selectAll("rect").data(counts).join("rect")
    .attr("x", (d, i) => histX(range[0] + i * w))
    .attr("width", (d, i) => histX(range[0] + (i + 1) * w) - histX(range[0] + i * w))
    .attr("y", (d) => histY(d))
    .attr("height", (d) => histY(0) - histY(d));
};
drawBars(neuroCounts, neuroRange, BLUE);
drawBars(addictionCounts, addictionRange, ORANGE);

const grid = svg.append("g").attr("stroke", "#cccccc").attr("stroke-width", 3.2);
grid.selectAll("line.gx").data(histXTicks).join("line").attr("class", "gx")
  .attr("x1", (d) => histX(d)).attr("x2", (d) => histX(d))
  .attr("y1", boxHist.y0).attr("y2", boxHist.y1);
grid.selectAll("line.gy").data(histYTicks).join("line").attr("class", "gy")
  .attr("x1", boxHist.x0).attr("x2", boxHist.x1)
  .attr("y1", (d) => histY(d)).attr("y2", (d) => histY(d));

svg.append("g")
  .attr("transform", `translate(0,${boxHist.y1})`)
  .call(d3.axisBottom(histX).tickValues(histXTicks).tickSize(TICK).tickPadding(14.6).tickFormat(d3.format(".1f")))
  .call(styleAxis);
svg.append("g")
  .attr("transform", `translate(${boxHist.x0},0)`)
  .call(d3.axisLeft(histY).tickValues(histYTicks).tickSize(TICK).tickPadding(16))
  .call(styleAxis);
addSpines(boxHist);

addText("Complement Score Distribution", 1165, 1824.3 - 25.5);
addText("Complement Score", 1165, 3490);
addText("Cell Count", 70, (boxHist.y0 + boxHist.y1) / 2, { rotate: true });

svg.append("rect")
  .attr("x", 1524).attr("y", 1851).attr("width", 551).attr("height", 170).attr("rx", 12)
  .attr("fill", "#fff").attr("fill-opacity", 0.8).attr("stroke", "#d9d9d9").attr("stroke-width", 3.3);
histLabels.forEach((label, i) => {
  svg.append("rect")
    .attr("x", 1546).attr("y", [1874, 1951][i]).attr("width", 27).attr("height", 37)
    .attr("fill", i ? ORANGE : BLUE).attr("fill-opacity", 0.7);
  addText(label, 1596, [1912, 1988][i], { size: LEGEND_FONT, anchor: "start" });
});
</script>
</body>
</html>
